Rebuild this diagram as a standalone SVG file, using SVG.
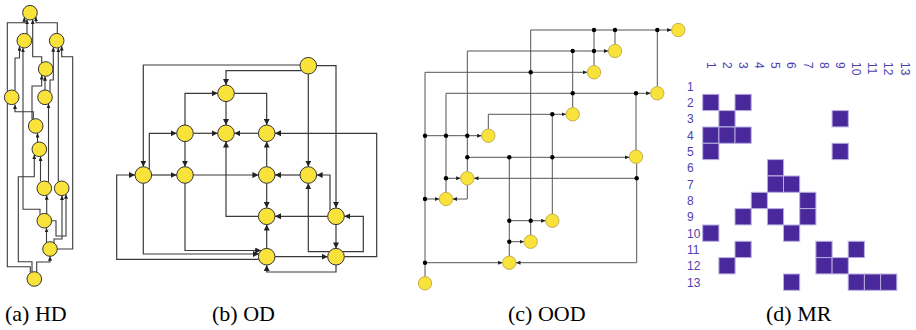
<svg xmlns="http://www.w3.org/2000/svg" width="916" height="330" viewBox="0 0 916 330">
<style>
.e{fill:none;stroke:#3a3a3a;stroke-width:1.2}
.h{fill:none;stroke:#3a3a3a;stroke-width:1.1}
.o{fill:none;stroke:#555;stroke-width:1}
.n{fill:#f9e33a;stroke:#333;stroke-width:1}
.on{fill:#f9e33a;stroke:#b5a040;stroke-width:0.8}
.d{fill:#000}
.cap{font-family:"Liberation Serif",serif;font-size:22px;fill:#000}
.lab{font-family:"Liberation Sans",sans-serif;font-size:12px;fill:#4a42b0}
.c{fill:#48289a;stroke:#b8aee0;stroke-width:1}
</style>
<defs>
<marker id="a" markerUnits="userSpaceOnUse" markerWidth="7" markerHeight="6" refX="6" refY="3" orient="auto"><path d="M0,0L6,3L0,6z" fill="#222"/></marker>
<marker id="t" markerUnits="userSpaceOnUse" markerWidth="5" markerHeight="4" refX="4.5" refY="2" orient="auto"><path d="M0,0L4.5,2L0,4z" fill="#222"/></marker>
<marker id="s" markerUnits="userSpaceOnUse" markerWidth="5" markerHeight="4" refX="4.5" refY="2" orient="auto"><path d="M0,0L4.5,2L0,4z" fill="#222"/></marker>
</defs>

<!-- (a) HD -->
<g id="hd-edges">
<path class="h" marker-end="url(#t)" d="M30.3,272.4V266.7H7.3V22.7H24.3V17.3"/>
<path class="h" marker-end="url(#t)" d="M57.3,33.4V22.7H36V16.9"/>
<path class="h" marker-end="url(#t)" d="M27,34V19.5"/>
<path class="h" marker-end="url(#t)" d="M41.7,62.9V56.7H32.7V19.6"/>
<path class="h" marker-end="url(#t)" d="M15,90.8V58H19.5V46.2"/>
<path class="h" marker-end="url(#t)" d="M40,214.8V209.3H23V47.9"/>
<path class="h" marker-end="url(#t)" d="M58.3,181.8V47.8"/>
<path class="h" marker-end="url(#t)" d="M57.3,249H72.7V56.7H61.7V46"/>
<path class="h" marker-end="url(#t)" d="M50,92V80H53.3V47.2"/>
<path class="h" marker-end="url(#t)" d="M45,90V76.3"/>
<path class="h" marker-end="url(#t)" d="M32,119.5V86H41.7V75.1"/>
<path class="h" marker-end="url(#t)" d="M33.3,119.7V111.7H15V104.4"/>
<path class="h" marker-end="url(#t)" d="M37.5,142.3V133"/>
<path class="h" marker-end="url(#t)" d="M40.5,181.3V156.5"/>
<path class="h" marker-end="url(#t)" d="M48.5,181.8V103.7"/>
<path class="h" marker-end="url(#t)" d="M46.7,214V195.2"/>
<path class="h" marker-end="url(#t)" d="M46.5,242.6V227.9"/>
<path class="h" marker-end="url(#t)" d="M51.5,220.7H56V236H66V194.2"/>
<path class="h" marker-end="url(#t)" d="M36.7,272.1V262H50V256.3"/>
<path class="h" marker-end="url(#t)" d="M32,272.6V261.7H18.3V176.7H34.3V154.7"/>
<path class="h" marker-end="url(#t)" d="M54,243V239H62V195.5"/>
</g>
<g id="hd-nodes">
<circle id="hd1" class="n" cx="30" cy="12.7" r="7.3"/>
<circle id="hd2" class="n" cx="24.3" cy="40.7" r="7.3"/>
<circle id="hd3" class="n" cx="56.7" cy="40.7" r="7.3"/>
<circle id="hd4" class="n" cx="45.7" cy="69" r="7.3"/>
<circle id="hd5" class="n" cx="11.7" cy="97.3" r="7.3"/>
<circle id="hd6" class="n" cx="45" cy="97.3" r="7.3"/>
<circle id="hd7" class="n" cx="35.7" cy="126" r="7.3"/>
<circle id="hd8" class="n" cx="39.3" cy="149.3" r="7.3"/>
<circle id="hd9" class="n" cx="44.3" cy="188.3" r="7.3"/>
<circle id="hd10" class="n" cx="61.7" cy="188.3" r="7.3"/>
<circle id="hd11" class="n" cx="44.3" cy="220.7" r="7.3"/>
<circle id="hd12" class="n" cx="50" cy="249" r="7.3"/>
<circle id="hd13" class="n" cx="34.3" cy="279" r="7.3"/>
</g>

<!-- (b) OD -->
<g id="od-edges">
<path class="e" marker-end="url(#a)" d="M300,65H143.3V166.7"/>
<path class="e" marker-end="url(#a)" d="M301.7,70.7H226V85"/>
<path class="e" marker-end="url(#a)" d="M308.3,74V166.7"/>
<path class="e" marker-end="url(#a)" d="M316.6,65.7H336V208"/>
<path class="e" marker-end="url(#a)" d="M185,125V93.3H217.7"/>
<path class="e" marker-end="url(#a)" d="M234.3,93.3H266.7V125"/>
<path class="e" marker-end="url(#a)" d="M226,101.6V125"/>
<path class="e" marker-end="url(#a)" d="M193.3,133.3H217.7"/>
<path class="e" marker-end="url(#a)" d="M258.4,133.3H234.3"/>
<path class="e" marker-end="url(#a)" d="M258.4,216.3H226V141.6"/>
<path class="e" marker-end="url(#a)" d="M185,141.6V166.7"/>
<path class="e" marker-end="url(#a)" d="M149.3,169.3V133.3H176.7"/>
<path class="e" marker-end="url(#a)" d="M344.3,256.7H376.7V133.3H275"/>
<path class="e" marker-end="url(#a)" d="M266.7,166.7V141.6"/>
<path class="e" marker-end="url(#a)" d="M151.6,175H176.7"/>
<path class="e" marker-end="url(#a)" d="M193.3,175H258.4"/>
<path class="e" marker-end="url(#a)" d="M143.3,183.3V254H258.9"/>
<path class="e" marker-end="url(#a)" d="M185,183.3V250.5H261.2"/>
<path class="e" marker-end="url(#a)" d="M258.9,259.4H116.7V175H135"/>
<path class="e" marker-end="url(#a)" d="M300,175H275"/>
<path class="e" marker-end="url(#a)" d="M330,210.6V175H316.6"/>
<path class="e" marker-end="url(#a)" d="M329.4,251.7H308.3V183.3"/>
<path class="e" marker-end="url(#a)" d="M342.6,251.7H363.3V216.3H344.3"/>
<path class="e" marker-end="url(#a)" d="M327.7,216.3H275"/>
<path class="e" marker-end="url(#a)" d="M336,224.6V248.4"/>
<path class="e" marker-end="url(#a)" d="M266.7,183.3V208"/>
<path class="e" marker-end="url(#a)" d="M266.7,248.4V224.6"/>
<path class="e" marker-end="url(#a)" d="M275,256.7H327.7"/>
<path class="e" marker-end="url(#a)" d="M336,265V272H266.7V265"/>
</g>
<g id="od-nodes">
<circle id="odA" class="n" cx="308.3" cy="65.7" r="8.3"/>
<circle id="odB" class="n" cx="226" cy="93.3" r="8.3"/>
<circle id="odC" class="n" cx="185" cy="133.3" r="8.3"/>
<circle id="odD" class="n" cx="226" cy="133.3" r="8.3"/>
<circle id="odE" class="n" cx="266.7" cy="133.3" r="8.3"/>
<circle id="odF" class="n" cx="143.3" cy="175" r="8.3"/>
<circle id="odG" class="n" cx="185" cy="175" r="8.3"/>
<circle id="odH" class="n" cx="266.7" cy="175" r="8.3"/>
<circle id="odI" class="n" cx="308.3" cy="175" r="8.3"/>
<circle id="odJ" class="n" cx="266.7" cy="216.3" r="8.3"/>
<circle id="odK" class="n" cx="336" cy="216.3" r="8.3"/>
<circle id="odL" class="n" cx="266.7" cy="256.7" r="8.3"/>
<circle id="odM" class="n" cx="336" cy="256.7" r="8.3"/>
</g>

<!-- (c) OOD -->
<g id="ood-edges">
<path class="o" marker-end="url(#s)" d="M530.7,235V30H671.6"/>
<path class="o" d="M594,30V65.6M615,30V44.3M657.3,30V86.6"/>
<path class="o" marker-end="url(#s)" d="M467.3,171.6V51H608.3"/>
<path class="o" d="M572.7,51V107.6"/>
<path class="o" marker-end="url(#s)" d="M425,276.6V72.3H587.3"/>
<path class="o" marker-end="url(#s)" d="M446,192.3V93.3H650.6"/>
<path class="o" d="M636,93.3V150"/>
<path class="o" marker-end="url(#s)" d="M488.3,129V114.3H566"/>
<path class="o" d="M552.3,114.3V214"/>
<path class="o" marker-end="url(#s)" d="M425,135.7H481.6"/>
<path class="o" marker-end="url(#s)" d="M467.3,157.3H629.3"/>
<path class="o" d="M509.3,157.3V256"/>
<path class="o" marker-end="url(#s)" d="M446,178.3H460.6"/>
<path class="o" marker-end="url(#s)" d="M636.7,178.3H474"/>
<path class="o" marker-end="url(#s)" d="M467.3,185V199H452.7"/>
<path class="o" marker-end="url(#s)" d="M425,199H439.3"/>
<path class="o" marker-end="url(#s)" d="M509.3,220.7H545.6"/>
<path class="o" marker-end="url(#s)" d="M509.3,241.7H524"/>
<path class="o" marker-end="url(#s)" d="M425,262.7H502.6"/>
<path class="o" marker-end="url(#s)" d="M636.7,163.4V262.7H516"/>
<g class="d">
<circle cx="594" cy="30" r="2.2"/><circle cx="615" cy="30" r="2.2"/><circle cx="657.3" cy="30" r="2.2"/>
<circle cx="572.7" cy="51" r="2.2"/><circle cx="594" cy="51" r="2.2"/>
<circle cx="530.7" cy="72.3" r="2.2"/>
<circle cx="572.7" cy="93.3" r="2.2"/><circle cx="636" cy="93.3" r="2.2"/>
<circle cx="552.3" cy="114.3" r="2.2"/>
<circle cx="425" cy="135.7" r="2.2"/><circle cx="446" cy="135.7" r="2.2"/><circle cx="467.3" cy="135.7" r="2.2"/>
<circle cx="467.3" cy="157.3" r="2.2"/><circle cx="509.3" cy="157.3" r="2.2"/><circle cx="552.3" cy="157.3" r="2.2"/>
<circle cx="446" cy="178.3" r="2.2"/><circle cx="636.7" cy="178.3" r="2.2"/>
<circle cx="425" cy="199" r="2.2"/>
<circle cx="509.3" cy="220.7" r="2.2"/><circle cx="530.7" cy="220.7" r="2.2"/>
<circle cx="509.3" cy="241.7" r="2.2"/>
<circle cx="425" cy="262.7" r="2.2"/>
</g>
</g>
<g id="ood-nodes">
<circle id="o1" class="on" cx="678.3" cy="30" r="6.7"/>
<circle id="o2" class="on" cx="615" cy="51" r="6.7"/>
<circle id="o3" class="on" cx="594" cy="72.3" r="6.7"/>
<circle id="o4" class="on" cx="657.3" cy="93.3" r="6.7"/>
<circle id="o5" class="on" cx="572.7" cy="114.3" r="6.7"/>
<circle id="o6" class="on" cx="488.3" cy="135.7" r="6.7"/>
<circle id="o7" class="on" cx="636" cy="156.7" r="6.7"/>
<circle id="o8" class="on" cx="467.3" cy="178.3" r="6.7"/>
<circle id="o9" class="on" cx="446" cy="199" r="6.7"/>
<circle id="o10" class="on" cx="552.3" cy="220.7" r="6.7"/>
<circle id="o11" class="on" cx="530.7" cy="241.7" r="6.7"/>
<circle id="o12" class="on" cx="509.3" cy="262.7" r="6.7"/>
<circle id="o13" class="on" cx="425" cy="283.3" r="6.7"/>
</g>

<!-- (d) MR -->
<g id="mr-labels" class="lab">
<text transform="translate(706.5,62) rotate(90)">1</text>
<text transform="translate(722.7,62) rotate(90)">2</text>
<text transform="translate(738.8,62) rotate(90)">3</text>
<text transform="translate(755,62) rotate(90)">4</text>
<text transform="translate(771.2,62) rotate(90)">5</text>
<text transform="translate(787.4,62) rotate(90)">6</text>
<text transform="translate(803.5,62) rotate(90)">7</text>
<text transform="translate(819.7,62) rotate(90)">8</text>
<text transform="translate(835.9,62) rotate(90)">9</text>
<text transform="translate(852,62) rotate(90)">10</text>
<text transform="translate(868.2,62) rotate(90)">11</text>
<text transform="translate(884.4,62) rotate(90)">12</text>
<text transform="translate(900.5,62) rotate(90)">13</text>
<text x="687" y="90.5">1</text>
<text x="687" y="106.8">2</text>
<text x="687" y="123.2">3</text>
<text x="687" y="139.5">4</text>
<text x="687" y="155.8">5</text>
<text x="687" y="172.2">6</text>
<text x="687" y="188.5">7</text>
<text x="687" y="204.8">8</text>
<text x="687" y="221.1">9</text>
<text x="687" y="237.5">10</text>
<text x="687" y="253.8">11</text>
<text x="687" y="270.1">12</text>
<text x="687" y="286.5">13</text>
</g>
<g id="mr-cells">
<rect class="c" x="702.7" y="94.3" width="16.2" height="16.3"/>
<rect class="c" x="735" y="94.3" width="16.2" height="16.3"/>
<rect class="c" x="718.9" y="110.6" width="16.2" height="16.3"/>
<rect class="c" x="832.1" y="110.6" width="16.2" height="16.3"/>
<rect class="c" x="702.7" y="127" width="16.2" height="16.3"/>
<rect class="c" x="718.9" y="127" width="16.2" height="16.3"/>
<rect class="c" x="735" y="127" width="16.2" height="16.3"/>
<rect class="c" x="702.7" y="143.3" width="16.2" height="16.3"/>
<rect class="c" x="832.1" y="143.3" width="16.2" height="16.3"/>
<rect class="c" x="767.4" y="159.6" width="16.2" height="16.3"/>
<rect class="c" x="767.4" y="176" width="16.2" height="16.3"/>
<rect class="c" x="783.5" y="176" width="16.2" height="16.3"/>
<rect class="c" x="751.2" y="192.3" width="16.2" height="16.3"/>
<rect class="c" x="799.7" y="192.3" width="16.2" height="16.3"/>
<rect class="c" x="735" y="208.6" width="16.2" height="16.3"/>
<rect class="c" x="767.4" y="208.6" width="16.2" height="16.3"/>
<rect class="c" x="799.7" y="208.6" width="16.2" height="16.3"/>
<rect class="c" x="702.7" y="225" width="16.2" height="16.3"/>
<rect class="c" x="783.5" y="225" width="16.2" height="16.3"/>
<rect class="c" x="735" y="241.3" width="16.2" height="16.3"/>
<rect class="c" x="815.9" y="241.3" width="16.2" height="16.3"/>
<rect class="c" x="848.2" y="241.3" width="16.2" height="16.3"/>
<rect class="c" x="718.9" y="257.6" width="16.2" height="16.3"/>
<rect class="c" x="815.9" y="257.6" width="16.2" height="16.3"/>
<rect class="c" x="832.1" y="257.6" width="16.2" height="16.3"/>
<rect class="c" x="783.5" y="274" width="16.2" height="16.3"/>
<rect class="c" x="848.2" y="274" width="16.2" height="16.3"/>
<rect class="c" x="864.4" y="274" width="16.2" height="16.3"/>
<rect class="c" x="880.6" y="274" width="16.2" height="16.3"/>
</g>

<g id="captions" class="cap">
<text x="5" y="321">(a) HD</text>
<text x="212" y="321">(b) OD</text>
<text x="508" y="321">(c) OOD</text>
<text x="766" y="321">(d) MR</text>
</g>
</svg>
